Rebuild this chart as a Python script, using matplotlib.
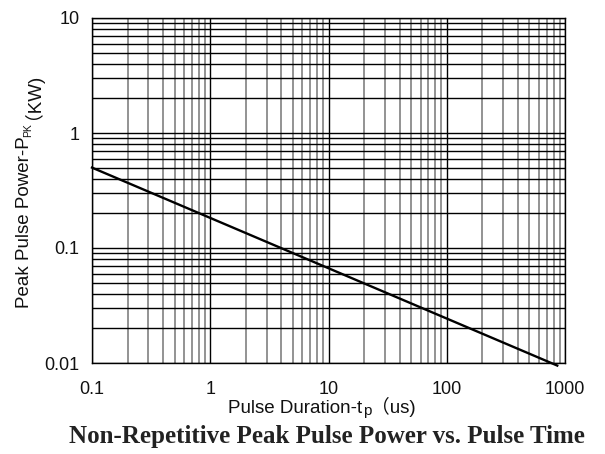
import numpy as np
import matplotlib
matplotlib.use("Agg")
import matplotlib.pyplot as plt
from matplotlib.ticker import LogLocator, NullFormatter, FixedLocator, FixedFormatter

# curve (pulse time in us, peak power in kW)
pulse_us = [0.1, 860]
power_kw = [0.5, 0.0095]

x_ticks = [0.1, 1, 10, 100, 1000]
x_ticklabels = ["0.1", "1", "10", "100", "1000"]
y_ticks = [0.01, 0.1, 1, 10]
y_ticklabels = ["0.01", "0.1", "1", "10"]

title = "Non-Repetitive Peak Pulse Power vs. Pulse Time"
# label pieces: (text, size, is_subscript)
xlabel_parts = [("Pulse Duration-t", 13.5, False), ("p", 11, True), ("（us)", 13.5, False)]
ylabel_parts = [("Peak Pulse Power-P", 13.5, False), ("PK", 7.5, True), ("（KW)", 13.5, False)]

sans = ["Liberation Sans", "Noto Sans CJK SC"]

fig = plt.figure(figsize=(6.05, 4.54), dpi=100)
ax = fig.add_axes([92 / 605, 1 - 363 / 454, (565 - 92) / 605, (363 - 18) / 454])
ax.set_xscale("log")
ax.set_yscale("log")
ax.set_xlim(0.1, 1000)
ax.set_ylim(0.01, 10)

# grid: horizontals black, verticals grey
ax.xaxis.set_minor_locator(LogLocator(base=10, subs=np.arange(2, 10)))
ax.yaxis.set_minor_locator(LogLocator(base=10, subs=np.arange(2, 10)))
ax.xaxis.set_minor_formatter(NullFormatter())
ax.yaxis.set_minor_formatter(NullFormatter())
ax.grid(True, which="both", axis="y", color="black", lw=1.0)
ax.grid(True, which="minor", axis="x", color="#8a8a8a", lw=1.3)
ax.grid(True, which="major", axis="x", color="black", lw=1.0)

ax.plot(pulse_us, power_kw, color="black", lw=1.7, clip_on=False, zorder=5)

ax.xaxis.set_major_locator(FixedLocator(x_ticks))
ax.xaxis.set_major_formatter(FixedFormatter(x_ticklabels))
ax.yaxis.set_major_locator(FixedLocator(y_ticks))
ax.yaxis.set_major_formatter(FixedFormatter(y_ticklabels))
ax.tick_params(which="both", length=0)
ax.tick_params(axis="x", pad=13)
ax.tick_params(axis="y", pad=9)
for lab in ax.get_xticklabels() + ax.get_yticklabels():
    lab.set_fontfamily(sans)
    lab.set_fontsize(13)
    lab.set_color("#111111")
for s in ax.spines.values():
    s.set_color("black")
    s.set_linewidth(1.0)

fig.text(327 / 605, 1 - 443 / 454, title, ha="center", va="baseline",
         fontsize=18, fontweight="bold", family="Liberation Serif", color="#222222")

# assemble labels with subscripts from pieces, measured in pixels
fig.canvas.draw()
renderer = fig.canvas.get_renderer()
W, H = fig.bbox.width, fig.bbox.height


def build(parts, rotation):
    texts = []
    for txt, size, _ in parts:
        t = fig.text(0, 0, txt, fontsize=size, family=sans, rotation=rotation,
                     rotation_mode="anchor", ha="left", va="baseline", color="#111111")
        texts.append(t)
    fig.canvas.draw()
    lengths = []
    for t in texts:
        bb = t.get_window_extent(renderer)
        lengths.append(bb.width if rotation == 0 else bb.height)
    return texts, lengths


# x label
texts, lens = build(xlabel_parts, 0)
cx, base = 322, 413
start = cx - sum(lens) / 2
for t, L, (_, _, sub) in zip(texts, lens, xlabel_parts):
    yb = base + (1.5 if sub else 0)
    t.set_position((start / W, 1 - yb / H))
    start += L

# y label (rotated, reads upward); small gap after the subscript
texts, lens = build(ylabel_parts, 90)
lens[1] += 4
cy, basex = 186, 29
start = cy + sum(lens) / 2
for t, L, (_, _, sub) in zip(texts, lens, ylabel_parts):
    xb = basex + (2 if sub else 0)
    t.set_position((xb / W, 1 - start / H))
    start -= L

fig.savefig("out.png", dpi=100)
